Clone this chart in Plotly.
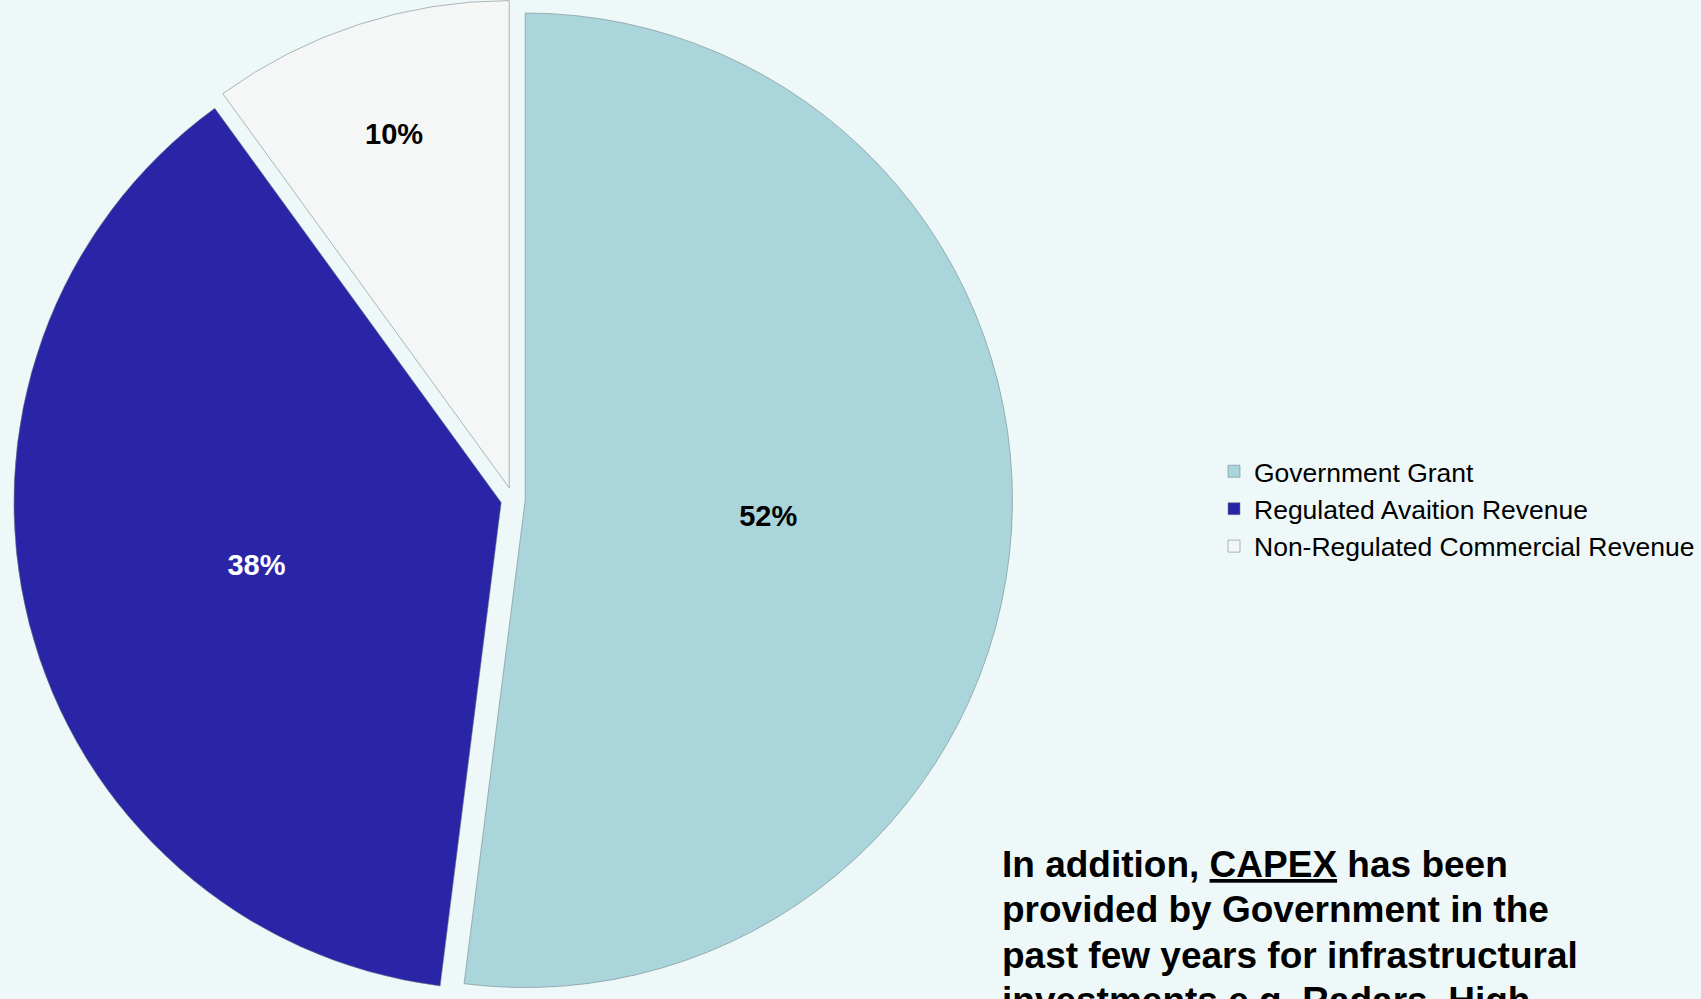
import plotly.graph_objects as go

labels = ["Government Grant", "Regulated Avaition Revenue", "Non-Regulated Commercial Revenue"]
values = [52, 38, 10]
colors = ["#aad5db", "#2a25a7", "#f5f6f6"]
text_colors = ["#000000", "#ffffff", "#000000"]
note_lines = [
    "In addition, <u>CAPEX</u> has been",
    "provided by Government in the",
    "past few years for infrastructural",
    "investments e.g. Radars, High",
]

W, H = 1701, 999
BG = "#eef8f8"
NOTE_TOP = 864      # px, centre of first note line
NOTE_STEP = 45.6    # px, line spacing of the note

fig = go.Figure(
    go.Pie(
        labels=labels,
        values=values,
        sort=False,
        direction="clockwise",
        rotation=0,
        pull=[0.025, 0.025, 0.025],
        marker=dict(colors=colors, line=dict(color="rgba(110,130,135,0.55)", width=1)),
        textinfo="percent",
        texttemplate="%{percent:.0%}",
        textposition="inside",
        insidetextorientation="horizontal",
        insidetextfont=dict(family="Liberation Sans, Arial, sans-serif", size=29,
                            color=text_colors, weight="bold"),
        domain=dict(x=[13.5 / W, 1012.5 / W], y=[0, 1]),
        hoverinfo="label+percent",
    )
)

for i, line in enumerate(note_lines):
    fig.add_annotation(
        text=line,
        xref="paper", yref="paper",
        x=1000 / W, y=1 - (NOTE_TOP + i * NOTE_STEP) / H,
        xanchor="left", yanchor="middle",
        align="left",
        showarrow=False,
        font=dict(family="Liberation Sans, Arial, sans-serif", size=37, color="#000000", weight="bold"),
    )

fig.update_layout(
    width=W, height=H,
    margin=dict(l=0, r=0, t=0, b=0),
    paper_bgcolor=BG,
    plot_bgcolor=BG,
    showlegend=True,
    legend=dict(
        x=1214 / W, y=1 - 509 / H,
        xanchor="left", yanchor="middle",
        font=dict(family="Liberation Sans, Arial, sans-serif", size=26.5, color="#000000"),
        bgcolor="rgba(0,0,0,0)",
        traceorder="normal",
    ),
)

fig.write_html("out.html")
